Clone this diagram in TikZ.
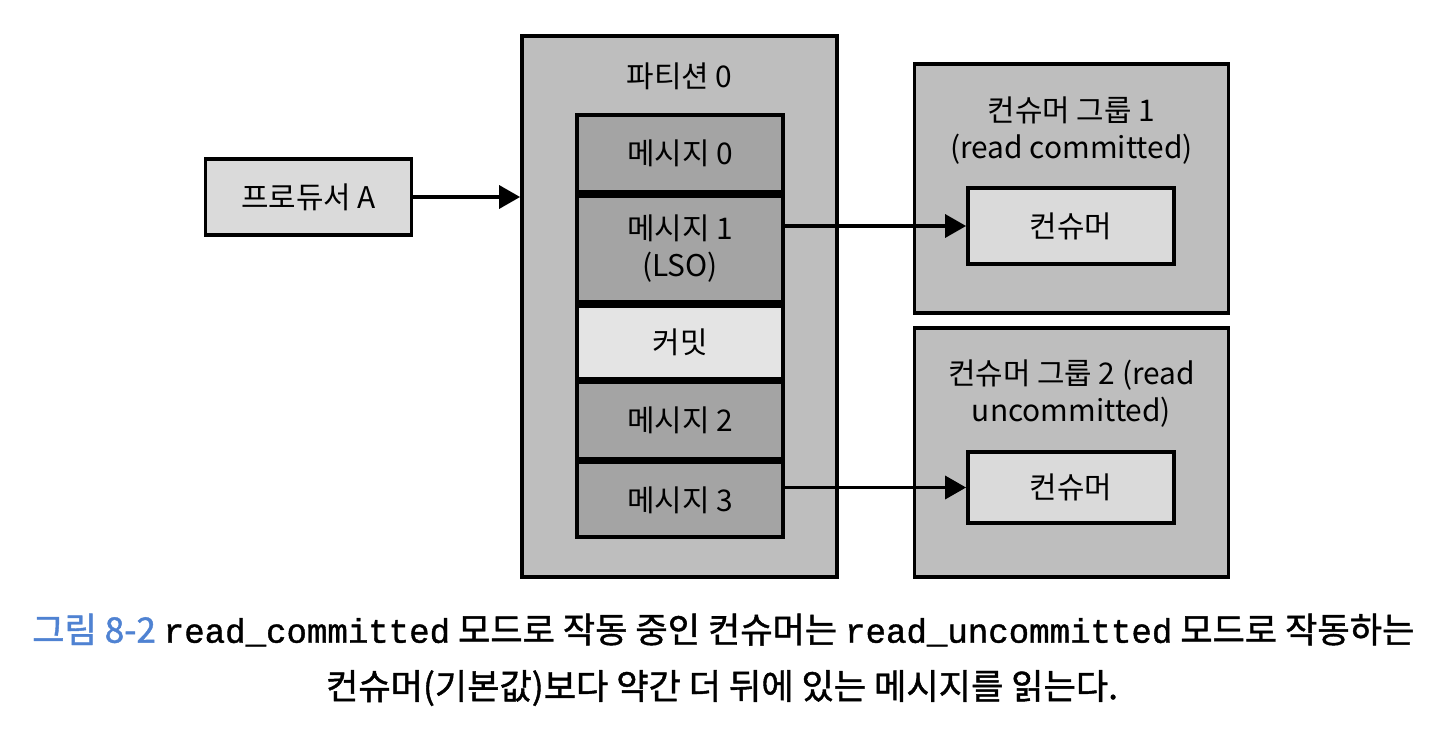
\documentclass[tikz,border=0pt]{standalone}
\usepackage{fontspec}
\setmainfont{Noto Sans CJK KR}
\setmonofont{Liberation Mono}
\newfontfamily\capfont[FakeBold=1.2]{Noto Sans CJK KR}
\newfontfamily\capmono[FakeBold=1.2, Scale=0.97]{Liberation Mono}
\usetikzlibrary{arrows.meta,positioning}
\definecolor{outergray}{HTML}{BEBEBE}
\definecolor{msggray}{HTML}{A4A4A4}
\definecolor{lightgray}{HTML}{DADADA}
\definecolor{commitgray}{HTML}{E4E4E4}
\definecolor{capblue}{HTML}{4F82D2}

\begin{document}
\begin{tikzpicture}[x=0.02cm, y=-0.02cm,
    box/.style={draw, line width=2.2pt, inner sep=0pt, font=\fontsize{17}{21}\selectfont},
    outer/.style={box, fill=outergray, minimum width=6.28cm},
    row/.style={box, fill=msggray, minimum width=4.12cm, align=center},
    small/.style={box, fill=lightgray, minimum width=4.12cm, minimum height=1.52cm},
    title/.style={align=center, font=\fontsize{17}{21}\selectfont},
    link/.style={line width=2pt, -{Triangle[length=0.42cm, width=0.46cm]}}]
    \useasboundingbox (0,0) rectangle (1446,750);

    \node[small] (prod) at (308.5,197) {프로듀서 A};

    \node[outer, minimum width=6.3cm, minimum height=10.82cm] (part) at (679.5,306.5) {};
    \node[title] (pt) at (679.5,76) {파티션 0};
    \node[row, minimum height=1.54cm] (m0) at (680,153.5) {메시지 0};
    \node[row, minimum height=2.12cm, below=0pt of m0] (m1) {메시지 1\\(LSO)};
    \node[row, minimum height=1.46cm, fill=commitgray, below=0pt of m1] (c) {커밋};
    \node[row, minimum height=1.52cm, below=0pt of c] (m2) {메시지 2};
    \node[row, minimum height=1.50cm, below=0pt of m2] (m3) {메시지 3};

    \node[outer, minimum height=4.98cm] (g1) at (1071.5,188.5) {};
    \node[title] (t1) at (1071.5,131) {컨슈머 그룹 1\\(read committed)};
    \node[small] (k1) at (1071,226) {컨슈머};

    \node[outer, minimum height=4.98cm] (g2) at (1071.5,452.5) {};
    \node[title] (t2) at (1071.5,394) {컨슈머 그룹 2 (read\\uncommitted)};
    \node[small, minimum height=1.42cm] (k2) at (1071,487.5) {컨슈머};

    \draw[link] (prod.east) -- (prod.east -| part.west);
    \draw[link] (m1.east |- k1.west) -- (k1.west);
    \draw[link] (m3.east |- k2.west) -- (k2.west);

    \node[anchor=west, font=\capfont\fontsize{20}{24}\selectfont] (cap1) at (26,630)
      {{\color{capblue}그림 8-2}\ {\capmono read\_committed} 모드로 작동 중인 컨슈머는 {\capmono read\_uncommitted} 모드로 작동하는};
    \node[font=\capfont\fontsize{20}{24}\selectfont] (cap2) at (722,688)
      {컨슈머(기본값)보다 약간 더 뒤에 있는 메시지를 읽는다.};
\end{tikzpicture}
\end{document}
